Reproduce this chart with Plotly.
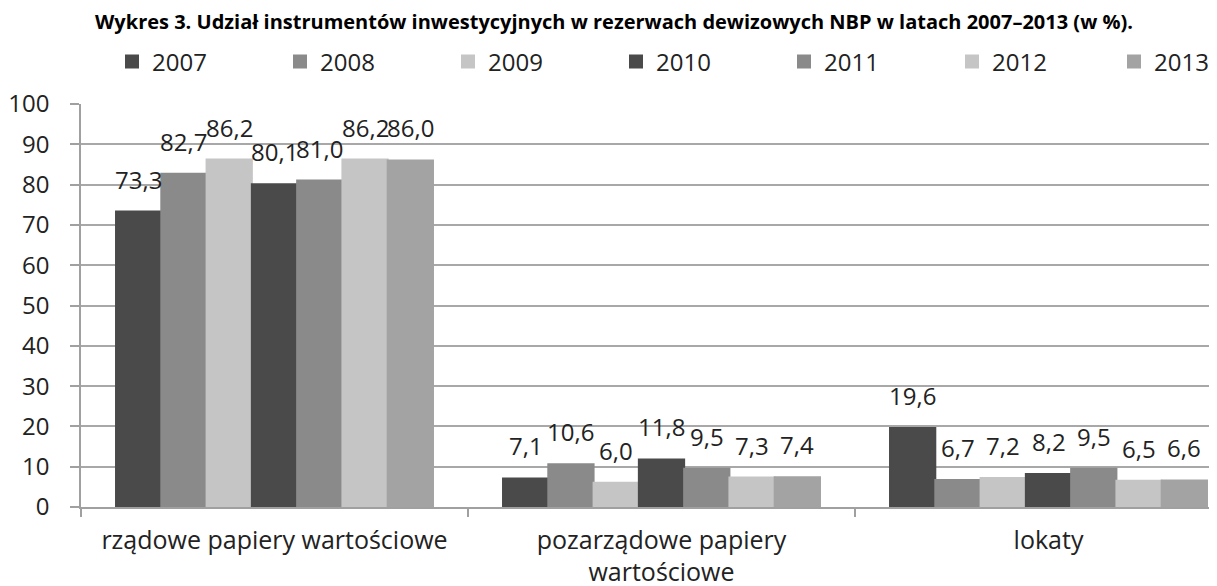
import plotly.graph_objects as go

categories = ["rządowe papiery wartościowe", "pozarządowe papiery<br>wartościowe", "lokaty"]
years = ["2007", "2008", "2009", "2010", "2011", "2012", "2013"]
values = {
    "2007": [73.3, 7.1, 19.6],
    "2008": [82.7, 10.6, 6.7],
    "2009": [86.2, 6.0, 7.2],
    "2010": [80.1, 11.8, 8.2],
    "2011": [81.0, 9.5, 9.5],
    "2012": [86.2, 7.3, 6.5],
    "2013": [86.0, 7.4, 6.6],
}
colors = ["#4a4a4a", "#8a8a8a", "#c5c5c5", "#4a4a4a", "#8a8a8a", "#c5c5c5", "#a3a3a3"]
y_ticks = list(range(0, 101, 10))

FONT = "Open Sans"
W, H = 1217, 586
OFF = 8  # page body margin offset
bargap = 0.181
n = len(years)
bw = (1 - bargap) / n
cat_px = 387.0
left = 81 - OFF

fig = go.Figure()
annotations = []
legends = {}
for i, yr in enumerate(years):
    lname = f"legend{i + 2}"
    fig.add_trace(go.Bar(
        x=categories, y=values[yr], name=yr, legend=lname,
        marker=dict(color=colors[i], line=dict(width=2, color=colors[i])),
        hoverinfo="skip",
    ))
    last = i == n - 1
    legends[lname] = dict(
        orientation="h", xref="container", yref="container",
        x=(1206 / W) if last else (104 + 168 * i) / W,
        xanchor="right" if last else "left",
        y=1 - 54 / H, yanchor="middle",
        font=dict(family=FONT, size=24, color="#222222"),
        bgcolor="rgba(0,0,0,0)", borderwidth=0,
    )
    for c, v in enumerate(values[yr]):
        annotations.append(dict(
            x=c + (i - (n - 1) / 2) * bw, y=v, xref="x", yref="y",
            text=f"{v:.1f}".replace(".", ","), showarrow=False,
            yanchor="bottom", yshift=14,
            font=dict(family=FONT, size=24, color="#222222"),
        ))

fig.update_layout(
    width=W, height=H,
    paper_bgcolor="white", plot_bgcolor="white",
    margin=dict(l=left, r=0, t=104 - OFF, b=H - (507 - OFF), autoexpand=False),
    barmode="group", bargap=bargap, bargroupgap=0,
    annotations=annotations,
    title=dict(
        text="<b>Wykres 3. Udział instrumentów inwestycyjnych w rezerwach dewizowych NBP w latach 2007–2013 (w %).</b>",
        x=(614 - OFF) / W, xanchor="center", xref="container",
        y=1 - 14 / H, yanchor="middle", yref="container",
        font=dict(family=FONT, size=20, color="black"),
    ),
    xaxis=dict(
        type="category", range=[-0.5, -0.5 + (W - left) / cat_px],
        showline=True, linecolor="#a0a0a0", linewidth=1.5,
        ticks="outside", tickson="boundaries", ticklen=8, tickcolor="#a0a0a0", tickwidth=1.5,
        tickfont=dict(family=FONT, size=25, color="#222222"),
        ticklabelstandoff=10,
        showgrid=False, zeroline=False, fixedrange=True,
    ),
    yaxis=dict(
        range=[0, 100], tickvals=y_ticks,
        showline=True, linecolor="#a0a0a0", linewidth=1.5,
        ticks="outside", ticklen=9, tickcolor="#a0a0a0", tickwidth=1.5,
        tickfont=dict(family=FONT, size=24, color="#222222"),
        ticklabelstandoff=16,
        showgrid=True, gridcolor="#a8a8a8", gridwidth=1.5,
        zeroline=False, fixedrange=True,
    ),
    **legends,
)

fig.write_html("out.html")
